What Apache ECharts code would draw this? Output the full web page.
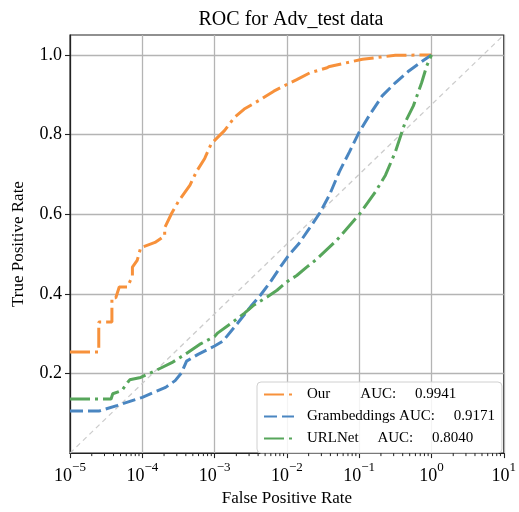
<!DOCTYPE html>
<html>
<head>
<meta charset="utf-8">
<script src="https://cdn.jsdelivr.net/npm/echarts@6/dist/echarts.min.js"></script>
<style>html,body{margin:0;padding:0;background:#fff}#c{width:519px;height:512px}</style>
</head>
<body>
<div id="c"></div>
<script>
// ---- data ----
const ourFpr = [1e-5,2.5e-5,2.5e-5,3.8e-5,3.8e-5,4.3e-5,4.8e-5,6.2e-5,6.9e-5,7.3e-5,7.3e-5,8.5e-5,9.5e-5,1.5e-4,1.87e-4,2.04e-4,2.04e-4,2.56e-4,3.16e-4,4.57e-4,5.62e-4,7.3e-4,9.0e-4,1.05e-3,1.37e-3,1.88e-3,2.57e-3,4.33e-3,6.6e-3,0.0111,0.0137,0.0208,0.0351,0.039,0.111,0.316,1.0];
const ourTpr = [0.254,0.254,0.329,0.329,0.390,0.390,0.417,0.417,0.435,0.445,0.467,0.484,0.516,0.529,0.541,0.545,0.566,0.603,0.632,0.673,0.707,0.740,0.777,0.789,0.810,0.843,0.864,0.888,0.909,0.930,0.938,0.955,0.967,0.971,0.989,0.999,1.0];

const gramFpr = [1e-5,2.56e-5,4.56e-5,1e-4,2.1e-4,2.85e-4,3.5e-4,4.1e-4,5.9e-4,1.0e-3,1.3e-3,2.08e-3,3.16e-3,4.33e-3,5.93e-3,8.1e-3,0.0105,0.0145,0.0208,0.0231,0.0285,0.039,0.0533,0.0731,0.1,0.137,0.208,0.316,0.481,0.731,1.0];
const gramTpr = [0.106,0.106,0.120,0.140,0.165,0.182,0.202,0.231,0.248,0.269,0.281,0.326,0.368,0.397,0.430,0.467,0.496,0.525,0.566,0.578,0.603,0.649,0.707,0.756,0.806,0.847,0.897,0.930,0.959,0.983,1.0];

const urlFpr = [1e-5,3.7e-5,3.9e-5,5.2e-5,6.3e-5,6.7e-5,9.5e-5,1.52e-4,2.56e-4,3.9e-4,6.2e-4,1.0e-3,1.11e-3,1.69e-3,2.57e-3,3.52e-3,5.33e-3,7.31e-3,0.01,0.0137,0.0188,0.0251,0.048,0.1,0.169,0.231,0.316,0.433,0.562,0.731,0.855,1.0];
const urlTpr = [0.136,0.136,0.149,0.157,0.178,0.184,0.190,0.207,0.227,0.248,0.273,0.293,0.302,0.326,0.351,0.372,0.392,0.409,0.430,0.446,0.467,0.485,0.533,0.599,0.657,0.698,0.756,0.831,0.872,0.930,0.971,1.0];

const seriesNames = ['Our', 'Grambeddings', 'URLNet'];
const aucValues = ['0.9941', '0.9171', '0.8040'];
const legendTexts = {
  'Our': 'Our        AUC:     0.9941',
  'Grambeddings': 'Grambeddings AUC:     0.9171',
  'URLNet': 'URLNet     AUC:     0.8040'
};
const yTicks = [0.2, 0.4, 0.6, 0.8, 1.0];
const xMin = 1e-5, xMax = 10, yMin = 0, yMax = 1.05;
const diagX = [xMin, xMax];
const diagY = [yMin, yMax];

// minor tick positions (axis decoration)
const minorTicks = [];
for (let e = -5; e < 1; e++) for (let m = 2; m <= 9; m++) minorTicks.push(m * Math.pow(10, e));

const zip = (a, b) => a.map((v, i) => [v, b[i]]);
const FONT = 'Liberation Serif';
const colors = ['#F7913B', '#4A86C1', '#57A65B'];

const chart = echarts.init(document.getElementById('c'), null, {renderer: 'canvas'});
chart.setOption({
  animation: false,
  backgroundColor: '#fff',
  title: {
    text: 'ROC for Adv_test data',
    left: 286, top: 5, textAlign: 'center',
    textStyle: {fontFamily: FONT, fontSize: 20, fontWeight: 'normal', color: '#000'}
  },
  grid: {left: 70, right: 9, top: 35, bottom: 54, show: true, borderColor: '#222', borderWidth: 1.2, backgroundColor: 'transparent'},
  legend: {
    data: seriesNames,
    orient: 'vertical',
    left: 257, top: 382,
    itemWidth: 30, itemHeight: 14, itemGap: 7,
    padding: [5, 7, 7, 6],
    backgroundColor: 'rgba(255,255,255,0.85)',
    borderColor: '#d0d0d0', borderWidth: 1, borderRadius: 4,
    itemStyle: {color: 'rgba(0,0,0,0)', borderColor: 'rgba(0,0,0,0)', borderWidth: 0, opacity: 0},
    formatter: n => legendTexts[n],
    textStyle: {fontFamily: FONT, fontSize: 15, color: '#000', padding: [0, 0, 0, 8]}
  },
  xAxis: {
    type: 'log', logBase: 10, min: xMin, max: xMax, interval: 1,
    name: 'False Positive Rate', nameLocation: 'middle', nameGap: 30,
    nameTextStyle: {fontFamily: FONT, fontSize: 17, color: '#000'},
    axisLine: {show: true, lineStyle: {color: '#222', width: 1.2}},
    axisTick: {show: true, length: 5, lineStyle: {color: '#222', width: 1.1}},
    minorTick: {show: false},
    splitLine: {show: true, lineStyle: {color: '#b4b4b4', width: 1.3}},
    axisLabel: {
      margin: 8,
      formatter: v => {
        const e = Math.round(Math.log10(v));
        return '{b|10}{s|' + String(e).replace('-', '−') + '}';
      },
      rich: {
        b: {fontFamily: FONT, fontSize: 18, color: '#000', lineHeight: 24, verticalAlign: 'bottom'},
        s: {fontFamily: FONT, fontSize: 13, color: '#000', lineHeight: 14, verticalAlign: 'top'}
      }
    }
  },
  yAxis: {
    type: 'value', min: yMin, max: yMax, interval: 0.2,
    name: 'True Positive Rate', nameLocation: 'middle', nameGap: 43,
    nameTextStyle: {fontFamily: FONT, fontSize: 17, color: '#000'},
    axisLine: {show: true, lineStyle: {color: '#222', width: 1.2}},
    axisTick: {show: true, length: 5, customValues: yTicks, lineStyle: {color: '#222', width: 1.1}},
    splitLine: {show: true, lineStyle: {color: '#b4b4b4', width: 1.3}},
    axisLabel: {
      customValues: yTicks,
      margin: 8, fontFamily: FONT, fontSize: 18, color: '#000',
      formatter: v => yTicks.some(t => Math.abs(t - v) < 1e-6) ? v.toFixed(1) : ''
    }
  },
  series: [
    {
      name: 'diag', type: 'line', data: zip(diagX, diagY), showSymbol: false, symbol: 'none',
      lineStyle: {color: '#cccccc', width: 1.3, type: [5, 4]}, z: 1, silent: true
    },
    {
      name: 'Our', type: 'line', data: zip(ourFpr, ourTpr), symbol: 'none', showSymbol: false,
      color: colors[0], lineStyle: {color: colors[0], width: 3, type: [20, 5, 3, 5], cap: 'butt'}, z: 3
    },
    {
      name: 'Grambeddings', type: 'line', data: zip(gramFpr, gramTpr), symbol: 'none', showSymbol: false,
      color: colors[1], lineStyle: {color: colors[1], width: 3, type: [13, 5], cap: 'butt'}, z: 3
    },
    {
      name: 'URLNet', type: 'line', data: zip(urlFpr, urlTpr), symbol: 'none', showSymbol: false,
      color: colors[2], lineStyle: {color: colors[2], width: 3, type: [20, 5, 3, 5], cap: 'butt'}, z: 3
    },
    {
      name: 'minor', type: 'custom', data: minorTicks.map(v => [v, yMin]), silent: true, clip: false, z: 5,
      renderItem: (params, api) => {
        const p = api.coord([api.value(0), api.value(1)]);
        return {type: 'line', shape: {x1: p[0], y1: p[1], x2: p[0], y2: p[1] + 3}, style: {stroke: '#222', lineWidth: 1}};
      }
    }
  ]
});
</script>
</body>
</html>
